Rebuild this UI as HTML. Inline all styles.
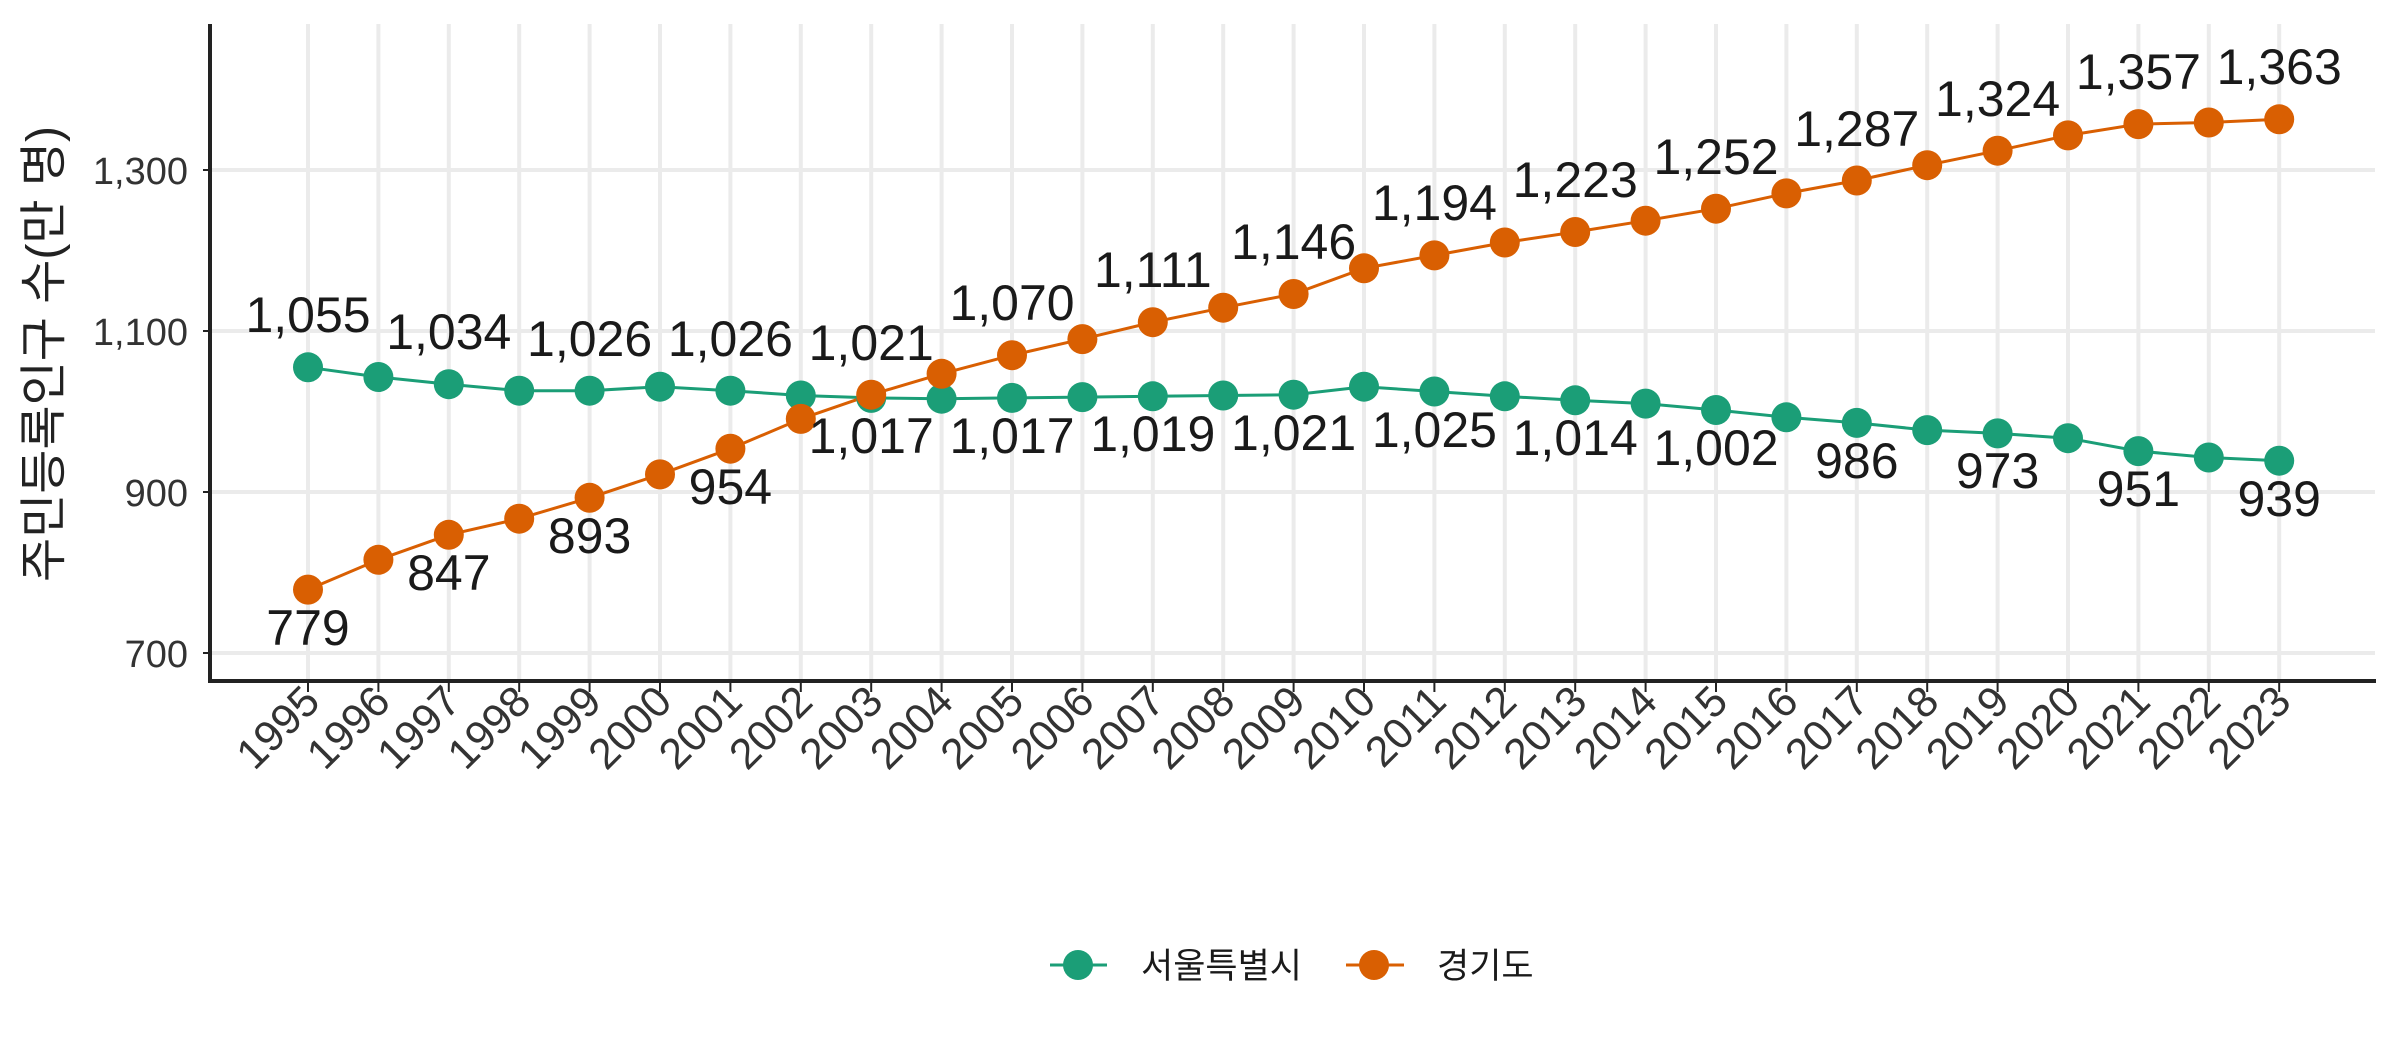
<!DOCTYPE html>
<html><head><meta charset="utf-8"><style>html,body{margin:0;padding:0;background:#fff}svg{display:block}</style></head>
<body>
<svg width="2400" height="1050" viewBox="0 0 2400 1050" xmlns="http://www.w3.org/2000/svg" font-family="'Liberation Sans','Noto Sans CJK KR',sans-serif">
<rect width="2400" height="1050" fill="#fff"/>
<g stroke="#ebebeb" stroke-width="4">
<line x1="210" x2="2375" y1="170" y2="170"/><line x1="210" x2="2375" y1="331" y2="331"/><line x1="210" x2="2375" y1="492" y2="492"/><line x1="210" x2="2375" y1="653" y2="653"/>
<line x1="308" x2="308" y1="24" y2="681"/><line x1="378.4" x2="378.4" y1="24" y2="681"/><line x1="448.8" x2="448.8" y1="24" y2="681"/><line x1="519.2" x2="519.2" y1="24" y2="681"/><line x1="589.6" x2="589.6" y1="24" y2="681"/><line x1="660" x2="660" y1="24" y2="681"/><line x1="730.4" x2="730.4" y1="24" y2="681"/><line x1="800.8" x2="800.8" y1="24" y2="681"/><line x1="871.2" x2="871.2" y1="24" y2="681"/><line x1="941.6" x2="941.6" y1="24" y2="681"/><line x1="1012" x2="1012" y1="24" y2="681"/><line x1="1082.4" x2="1082.4" y1="24" y2="681"/><line x1="1152.8" x2="1152.8" y1="24" y2="681"/><line x1="1223.2" x2="1223.2" y1="24" y2="681"/><line x1="1293.6" x2="1293.6" y1="24" y2="681"/><line x1="1364" x2="1364" y1="24" y2="681"/><line x1="1434.4" x2="1434.4" y1="24" y2="681"/><line x1="1504.8" x2="1504.8" y1="24" y2="681"/><line x1="1575.2" x2="1575.2" y1="24" y2="681"/><line x1="1645.6" x2="1645.6" y1="24" y2="681"/><line x1="1716" x2="1716" y1="24" y2="681"/><line x1="1786.4" x2="1786.4" y1="24" y2="681"/><line x1="1856.8" x2="1856.8" y1="24" y2="681"/><line x1="1927.2" x2="1927.2" y1="24" y2="681"/><line x1="1997.6" x2="1997.6" y1="24" y2="681"/><line x1="2068" x2="2068" y1="24" y2="681"/><line x1="2138.4" x2="2138.4" y1="24" y2="681"/><line x1="2208.8" x2="2208.8" y1="24" y2="681"/><line x1="2279.2" x2="2279.2" y1="24" y2="681"/>
</g>
<g stroke="#222" stroke-width="2">
<line x1="203" x2="210" y1="170" y2="170"/><line x1="203" x2="210" y1="331" y2="331"/><line x1="203" x2="210" y1="492" y2="492"/><line x1="203" x2="210" y1="653" y2="653"/>
<line x1="308" x2="308" y1="681" y2="692"/><line x1="378.4" x2="378.4" y1="681" y2="692"/><line x1="448.8" x2="448.8" y1="681" y2="692"/><line x1="519.2" x2="519.2" y1="681" y2="692"/><line x1="589.6" x2="589.6" y1="681" y2="692"/><line x1="660" x2="660" y1="681" y2="692"/><line x1="730.4" x2="730.4" y1="681" y2="692"/><line x1="800.8" x2="800.8" y1="681" y2="692"/><line x1="871.2" x2="871.2" y1="681" y2="692"/><line x1="941.6" x2="941.6" y1="681" y2="692"/><line x1="1012" x2="1012" y1="681" y2="692"/><line x1="1082.4" x2="1082.4" y1="681" y2="692"/><line x1="1152.8" x2="1152.8" y1="681" y2="692"/><line x1="1223.2" x2="1223.2" y1="681" y2="692"/><line x1="1293.6" x2="1293.6" y1="681" y2="692"/><line x1="1364" x2="1364" y1="681" y2="692"/><line x1="1434.4" x2="1434.4" y1="681" y2="692"/><line x1="1504.8" x2="1504.8" y1="681" y2="692"/><line x1="1575.2" x2="1575.2" y1="681" y2="692"/><line x1="1645.6" x2="1645.6" y1="681" y2="692"/><line x1="1716" x2="1716" y1="681" y2="692"/><line x1="1786.4" x2="1786.4" y1="681" y2="692"/><line x1="1856.8" x2="1856.8" y1="681" y2="692"/><line x1="1927.2" x2="1927.2" y1="681" y2="692"/><line x1="1997.6" x2="1997.6" y1="681" y2="692"/><line x1="2068" x2="2068" y1="681" y2="692"/><line x1="2138.4" x2="2138.4" y1="681" y2="692"/><line x1="2208.8" x2="2208.8" y1="681" y2="692"/><line x1="2279.2" x2="2279.2" y1="681" y2="692"/>
</g>
<g stroke="#222" stroke-width="4" fill="none"><polyline points="210,24 210,681 2376,681"/></g>
<g font-size="38" fill="#333" text-anchor="end">
<text x="188" y="184">1,300</text><text x="188" y="345">1,100</text><text x="188" y="506">900</text><text x="188" y="667">700</text>
</g>
<text transform="translate(60,354) rotate(-90)" font-size="48" fill="#222" text-anchor="middle">주민등록인구 수(만 명)</text>
<g font-size="43" fill="#333" text-anchor="end">
<text transform="translate(322,704) rotate(-45)">1995</text><text transform="translate(392.4,704) rotate(-45)">1996</text><text transform="translate(462.8,704) rotate(-45)">1997</text><text transform="translate(533.2,704) rotate(-45)">1998</text><text transform="translate(603.6,704) rotate(-45)">1999</text><text transform="translate(674,704) rotate(-45)">2000</text><text transform="translate(744.4,704) rotate(-45)">2001</text><text transform="translate(814.8,704) rotate(-45)">2002</text><text transform="translate(885.2,704) rotate(-45)">2003</text><text transform="translate(955.6,704) rotate(-45)">2004</text><text transform="translate(1026,704) rotate(-45)">2005</text><text transform="translate(1096.4,704) rotate(-45)">2006</text><text transform="translate(1166.8,704) rotate(-45)">2007</text><text transform="translate(1237.2,704) rotate(-45)">2008</text><text transform="translate(1307.6,704) rotate(-45)">2009</text><text transform="translate(1378,704) rotate(-45)">2010</text><text transform="translate(1448.4,704) rotate(-45)">2011</text><text transform="translate(1518.8,704) rotate(-45)">2012</text><text transform="translate(1589.2,704) rotate(-45)">2013</text><text transform="translate(1659.6,704) rotate(-45)">2014</text><text transform="translate(1730,704) rotate(-45)">2015</text><text transform="translate(1800.4,704) rotate(-45)">2016</text><text transform="translate(1870.8,704) rotate(-45)">2017</text><text transform="translate(1941.2,704) rotate(-45)">2018</text><text transform="translate(2011.6,704) rotate(-45)">2019</text><text transform="translate(2082,704) rotate(-45)">2020</text><text transform="translate(2152.4,704) rotate(-45)">2021</text><text transform="translate(2222.8,704) rotate(-45)">2022</text><text transform="translate(2293.2,704) rotate(-45)">2023</text>
</g>
<polyline fill="none" stroke="#1b9e77" stroke-width="3" points="308,367.3 378.4,377 448.8,384.2 519.2,390.7 589.6,390.7 660,386.7 730.4,390.7 800.8,395.5 871.2,397.9 941.6,398.7 1012,397.9 1082.4,397.1 1152.8,396.3 1223.2,395.5 1293.6,394.7 1364,386.7 1434.4,391.5 1504.8,396.3 1575.2,400.3 1645.6,403.6 1716,410 1786.4,417.3 1856.8,422.9 1927.2,430.1 1997.6,433.4 2068,438.2 2138.4,451.1 2208.8,457.5 2279.2,460.7"/>
<polyline fill="none" stroke="#d95f02" stroke-width="3" points="308,589.6 378.4,559.8 448.8,534.8 519.2,518.7 589.6,497.8 660,474.4 730.4,448.7 800.8,418.9 871.2,394.7 941.6,373.8 1012,355.2 1082.4,339.1 1152.8,322.2 1223.2,307.7 1293.6,294 1364,268.3 1434.4,255.4 1504.8,242.5 1575.2,232 1645.6,220.7 1716,208.7 1786.4,193.4 1856.8,180.5 1927.2,165.2 1997.6,150.7 2068,135.4 2138.4,124.1 2208.8,122.5 2279.2,119.3"/>
<g fill="#1b9e77">
<circle cx="308" cy="367.3" r="15"/><circle cx="378.4" cy="377" r="15"/><circle cx="448.8" cy="384.2" r="15"/><circle cx="519.2" cy="390.7" r="15"/><circle cx="589.6" cy="390.7" r="15"/><circle cx="660" cy="386.7" r="15"/><circle cx="730.4" cy="390.7" r="15"/><circle cx="800.8" cy="395.5" r="15"/><circle cx="871.2" cy="397.9" r="15"/><circle cx="941.6" cy="398.7" r="15"/><circle cx="1012" cy="397.9" r="15"/><circle cx="1082.4" cy="397.1" r="15"/><circle cx="1152.8" cy="396.3" r="15"/><circle cx="1223.2" cy="395.5" r="15"/><circle cx="1293.6" cy="394.7" r="15"/><circle cx="1364" cy="386.7" r="15"/><circle cx="1434.4" cy="391.5" r="15"/><circle cx="1504.8" cy="396.3" r="15"/><circle cx="1575.2" cy="400.3" r="15"/><circle cx="1645.6" cy="403.6" r="15"/><circle cx="1716" cy="410" r="15"/><circle cx="1786.4" cy="417.3" r="15"/><circle cx="1856.8" cy="422.9" r="15"/><circle cx="1927.2" cy="430.1" r="15"/><circle cx="1997.6" cy="433.4" r="15"/><circle cx="2068" cy="438.2" r="15"/><circle cx="2138.4" cy="451.1" r="15"/><circle cx="2208.8" cy="457.5" r="15"/><circle cx="2279.2" cy="460.7" r="15"/>
</g>
<g fill="#d95f02">
<circle cx="308" cy="589.6" r="15"/><circle cx="378.4" cy="559.8" r="15"/><circle cx="448.8" cy="534.8" r="15"/><circle cx="519.2" cy="518.7" r="15"/><circle cx="589.6" cy="497.8" r="15"/><circle cx="660" cy="474.4" r="15"/><circle cx="730.4" cy="448.7" r="15"/><circle cx="800.8" cy="418.9" r="15"/><circle cx="871.2" cy="394.7" r="15"/><circle cx="941.6" cy="373.8" r="15"/><circle cx="1012" cy="355.2" r="15"/><circle cx="1082.4" cy="339.1" r="15"/><circle cx="1152.8" cy="322.2" r="15"/><circle cx="1223.2" cy="307.7" r="15"/><circle cx="1293.6" cy="294" r="15"/><circle cx="1364" cy="268.3" r="15"/><circle cx="1434.4" cy="255.4" r="15"/><circle cx="1504.8" cy="242.5" r="15"/><circle cx="1575.2" cy="232" r="15"/><circle cx="1645.6" cy="220.7" r="15"/><circle cx="1716" cy="208.7" r="15"/><circle cx="1786.4" cy="193.4" r="15"/><circle cx="1856.8" cy="180.5" r="15"/><circle cx="1927.2" cy="165.2" r="15"/><circle cx="1997.6" cy="150.7" r="15"/><circle cx="2068" cy="135.4" r="15"/><circle cx="2138.4" cy="124.1" r="15"/><circle cx="2208.8" cy="122.5" r="15"/><circle cx="2279.2" cy="119.3" r="15"/>
</g>
<g font-size="50" fill="#1a1a1a" text-anchor="middle">
<text x="308" y="332">1,055</text><text x="448.8" y="349">1,034</text><text x="589.6" y="356">1,026</text><text x="730.4" y="356">1,026</text>
<text x="871.2" y="453">1,017</text><text x="1012" y="453">1,017</text><text x="1152.8" y="451">1,019</text><text x="1293.6" y="450">1,021</text><text x="1434.4" y="447">1,025</text><text x="1575.2" y="455">1,014</text><text x="1716" y="465">1,002</text><text x="1856.8" y="478">986</text><text x="1997.6" y="488">973</text><text x="2138.4" y="506">951</text><text x="2279.2" y="516">939</text>
<text x="308" y="645">779</text><text x="448.8" y="590">847</text><text x="589.6" y="553">893</text><text x="730.4" y="504">954</text>
<text x="871.2" y="360">1,021</text><text x="1012" y="320">1,070</text><text x="1152.8" y="287">1,111</text><text x="1293.6" y="259">1,146</text><text x="1434.4" y="220">1,194</text><text x="1575.2" y="197">1,223</text><text x="1716" y="174">1,252</text><text x="1856.8" y="146">1,287</text><text x="1997.6" y="116">1,324</text><text x="2138.4" y="89">1,357</text><text x="2279.2" y="84">1,363</text>
</g>
<line x1="1050" x2="1107" y1="965" y2="965" stroke="#1b9e77" stroke-width="3"/>
<circle cx="1078" cy="965" r="15" fill="#1b9e77"/>
<text x="1141" y="978" font-size="35" fill="#1a1a1a">서울특별시</text>
<line x1="1346" x2="1404" y1="965" y2="965" stroke="#d95f02" stroke-width="3"/>
<circle cx="1374" cy="965" r="15" fill="#d95f02"/>
<text x="1437" y="978" font-size="35" fill="#1a1a1a">경기도</text>
</svg>
</body></html>
